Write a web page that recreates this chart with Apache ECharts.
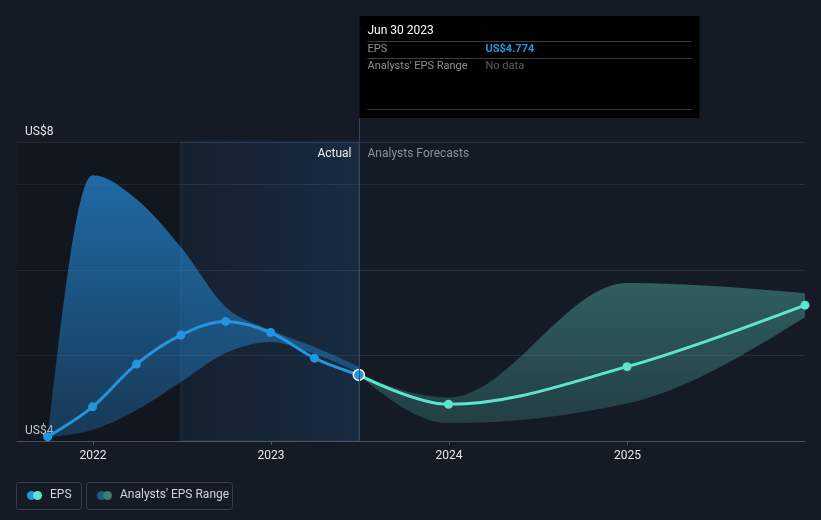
<!DOCTYPE html>
<html><head><meta charset="utf-8">
<script src="https://cdn.jsdelivr.net/npm/echarts@6/dist/echarts.min.js"></script>
<style>html,body{margin:0;padding:0;background:#151b25;}#c{width:821px;height:520px;}</style>
</head><body><div id="c"></div>
<script>
// ---- data ----
const actualDates = ['2021-09-30','2021-12-31','2022-03-31','2022-06-30','2022-09-30','2022-12-31','2023-03-31','2023-06-30'];
const actualEps = [4.05, 4.40, 4.90, 5.24, 5.40, 5.27, 4.97, 4.774];
const actualRangeLow = [4.05, 4.13, 4.36, 4.69, 5.03, 5.16, 5.02, 4.80];
const actualRangeHigh = [4.05, 7.11, 6.83, 6.27, 5.57, 5.30, 5.10, 4.87];
const forecastDates = ['2023-06-30','2023-12-31','2024-12-31','2025-12-31'];
const forecastEps = [4.774, 4.43, 4.87, 5.59];
const forecastLow = [4.774, 4.21, 4.44, 5.45];
const forecastHigh = [4.774, 4.51, 5.85, 5.73];
const yTickLabels = {'7.5': 'US$8', '4': 'US$4'};
const axisStart = '2021-07-29', axisEnd = '2025-12-31';
const actualShadeStart = '2022-06-30', lastActual = '2023-06-30';
const tooltipDate = 'Jun 30 2023', tooltipEps = 'US$4.774';

const FONT = 'Roboto, "Noto Sans", sans-serif';
const BLUE = '#2394df', TEAL = '#5ce5cc';
const DAY = 86400000;
const ts = s => echarts.time.parse(s).getTime();
const pair = (xs, ys) => xs.map((d, i) => [ts(d), ys[i]]);
const triple = (xs, lo, hi) => xs.map((d, i) => [ts(d), lo[i], hi[i]]);

// monotone-x cubic tangents (pixel space)
const sgn = v => v < 0 ? -1 : 1;
function tangents(p) {
  const n = p.length, t = new Array(n).fill(0);
  for (let i = 1; i < n - 1; i++) {
    const h0 = p[i][0] - p[i-1][0], h1 = p[i+1][0] - p[i][0];
    const s0 = (p[i][1] - p[i-1][1]) / h0, s1 = (p[i+1][1] - p[i][1]) / h1;
    const q = (s0 * h1 + s1 * h0) / (h0 + h1);
    t[i] = (sgn(s0) + sgn(s1)) * Math.min(Math.abs(s0), Math.abs(s1), 0.5 * Math.abs(q)) || 0;
  }
  if (n === 2) { t[0] = t[1] = (p[1][1] - p[0][1]) / (p[1][0] - p[0][0]); }
  else {
    t[0] = (3 * (p[1][1] - p[0][1]) / (p[1][0] - p[0][0]) - t[1]) / 2;
    t[n-1] = (3 * (p[n-1][1] - p[n-2][1]) / (p[n-1][0] - p[n-2][0]) - t[n-2]) / 2;
  }
  return t;
}
function bandPath(up, lo) {
  const tu = tangents(up), tl = tangents(lo);
  let d = 'M' + up[0][0] + ',' + up[0][1];
  for (let i = 0; i < up.length - 1; i++) {
    const h = (up[i+1][0] - up[i][0]) / 3;
    d += 'C' + (up[i][0] + h) + ',' + (up[i][1] + h * tu[i]) + ',' + (up[i+1][0] - h) + ',' + (up[i+1][1] - h * tu[i+1]) + ',' + up[i+1][0] + ',' + up[i+1][1];
  }
  const n = lo.length;
  d += 'L' + lo[n-1][0] + ',' + lo[n-1][1];
  for (let i = n - 1; i > 0; i--) {
    const h = (lo[i][0] - lo[i-1][0]) / 3;
    d += 'C' + (lo[i][0] - h) + ',' + (lo[i][1] - h * tl[i]) + ',' + (lo[i-1][0] + h) + ',' + (lo[i-1][1] + h * tl[i-1]) + ',' + lo[i-1][0] + ',' + lo[i-1][1];
  }
  return d + 'Z';
}
function bandSeries(dates, low, high, stops) {
  return {
    type: 'custom', z: 2, silent: true, clip: true,
    encode: {x: 0, y: [1, 2]},
    data: triple(dates, low, high),
    renderItem: (params, api) => {
      if (params.dataIndex !== 0) return null;
      const up = dates.map((d, i) => api.coord([ts(d), high[i]]));
      const lo = dates.map((d, i) => api.coord([ts(d), low[i]]));
      return {type: 'path', shape: {pathData: bandPath(up, lo)},
        style: {fill: {type: 'linear', x: 0, y: 0, x2: 0, y2: 1, colorStops: stops}, stroke: null}};
    }
  };
}

const chart = echarts.init(document.getElementById('c'), null, {renderer: 'canvas'});
const option = {
  backgroundColor: '#151b25',
  animation: false,
  textStyle: {fontFamily: FONT},
  grid: {left: 17, right: 16, top: 142, bottom: 79, containLabel: false, outerBoundsMode: 'none'},
  xAxis: {
    type: 'time', min: ts(axisStart), max: ts(axisEnd),
    minInterval: 365 * DAY, maxInterval: 366 * DAY,
    axisLine: {lineStyle: {color: '#4b515c', width: 1}},
    axisTick: {show: true, length: 4, lineStyle: {color: '#4b515c'}},
    minorTick: {show: false},
    axisLabel: {showMinLabel: false, showMaxLabel: false,
      formatter: v => { const d = new Date(v); return (d.getMonth() === 0 && d.getDate() === 1) ? String(d.getFullYear()) : ''; },
      color: '#e6e6e6', fontSize: 12, margin: 9, fontFamily: FONT},
    splitLine: {show: false}
  },
  yAxis: {
    type: 'value', min: 4, max: 7.5, interval: 1,
    axisLine: {show: false}, axisTick: {show: false},
    splitLine: {lineStyle: {color: '#272e39', width: 1}},
    axisLabel: {inside: true, showMinLabel: true, showMaxLabel: true, margin: 8,
      formatter: v => yTickLabels[String(v)] || '', color: '#e6e6e6', fontSize: 12,
      verticalAlign: 'bottom', padding: [0, 0, 4, 0], fontFamily: FONT}
  },
  series: [
    {type: 'line', data: [], z: 1, silent: true,
      markArea: {silent: true, data: [
        [{xAxis: ts(axisStart), itemStyle: {color: 'rgba(0,0,0,0.14)'}}, {xAxis: ts(actualShadeStart)}],
        [{xAxis: ts(actualShadeStart), itemStyle: {
          color: {type: 'linear', x: 0, y: 0, x2: 1, y2: 0, colorStops: [
            {offset: 0, color: 'rgba(35,120,200,0.06)'}, {offset: 1, color: 'rgba(35,120,200,0.17)'}]},
          borderColor: 'rgba(90,140,190,0.18)', borderWidth: 1}}, {xAxis: ts(lastActual)}]
      ]}},
    bandSeries(actualDates, actualRangeLow, actualRangeHigh,
      [{offset: 0, color: 'rgba(36,135,212,0.74)'}, {offset: 1, color: 'rgba(36,135,212,0.30)'}]),
    bandSeries(forecastDates, forecastLow, forecastHigh,
      [{offset: 0, color: 'rgba(90,205,190,0.38)'}, {offset: 1, color: 'rgba(90,205,190,0.20)'}]),
    {name: 'EPS forecast', type: 'line', z: 3, smooth: 0.35, silent: true,
      lineStyle: {color: TEAL, width: 3}, itemStyle: {color: TEAL},
      symbol: 'circle', symbolSize: 9,
      data: forecastDates.map((d, i) => i === 0 ? {value: [ts(d), forecastEps[i]], symbol: 'none'} : [ts(d), forecastEps[i]])},
    {name: 'EPS', type: 'line', z: 4, smooth: 0.35, silent: true,
      lineStyle: {color: BLUE, width: 3}, itemStyle: {color: BLUE},
      symbol: 'circle', symbolSize: 9,
      data: actualDates.map((d, i) => i === actualDates.length - 1
        ? {value: [ts(d), actualEps[i]], symbolSize: 11, itemStyle: {color: BLUE, borderColor: '#ffffff', borderWidth: 1.5}}
        : [ts(d), actualEps[i]])}
  ]
};
chart.setOption(option);

const lx = Math.round(chart.convertToPixel({xAxisIndex: 0}, ts(lastActual))) + 0.5;
const yBottomPx = chart.convertToPixel({yAxisIndex: 0}, 4);
const tipL = lx, tipT = 16, tipW = 340, tipH = 102;
const g = [
  {type: 'line', silent: true, z: 5, shape: {x1: lx, y1: tipT + tipH, x2: lx, y2: yBottomPx}, style: {stroke: '#2c4862', lineWidth: 1}},
  {type: 'text', z: 6, style: {text: 'Actual', x: lx - 8, y: 154, align: 'right', verticalAlign: 'middle', fill: '#ececec', font: '12px ' + FONT}},
  {type: 'text', z: 6, style: {text: 'Analysts Forecasts', x: lx + 8, y: 154, align: 'left', verticalAlign: 'middle', fill: '#8b9099', font: '12px ' + FONT}},
  {type: 'rect', z: 10, shape: {x: tipL, y: tipT, width: tipW, height: tipH}, style: {fill: '#000000'}},
  {type: 'text', z: 11, style: {text: tooltipDate, x: tipL + 8, y: 31, verticalAlign: 'middle', fill: '#ffffff', font: '12px ' + FONT}},
  {type: 'line', z: 11, shape: {x1: tipL + 8, y1: 41.5, x2: tipL + 332, y2: 41.5}, style: {stroke: '#3a3d42', lineWidth: 1}},
  {type: 'text', z: 11, style: {text: 'EPS', x: tipL + 8, y: 49, verticalAlign: 'middle', fill: '#8e8f92', font: '11px ' + FONT}},
  {type: 'text', z: 11, style: {text: tooltipEps, x: tipL + 126, y: 49, verticalAlign: 'middle', fill: BLUE, font: 'bold 11px ' + FONT}},
  {type: 'line', z: 11, shape: {x1: tipL + 8, y1: 58.5, x2: tipL + 332, y2: 58.5}, style: {stroke: '#3a3d42', lineWidth: 1}},
  {type: 'text', z: 11, style: {text: "Analysts' EPS Range", x: tipL + 8, y: 66, verticalAlign: 'middle', fill: '#8e8f92', font: '11px ' + FONT}},
  {type: 'text', z: 11, style: {text: 'No data', x: tipL + 126, y: 66, verticalAlign: 'middle', fill: '#5d5e61', font: '11px ' + FONT}},
  {type: 'line', z: 11, shape: {x1: tipL + 8, y1: 109.5, x2: tipL + 332, y2: 109.5}, style: {stroke: '#3a3d42', lineWidth: 1}},
  // legend
  {type: 'rect', z: 10, shape: {x: 16.5, y: 482.5, width: 65, height: 27, r: 3}, style: {fill: 'transparent', stroke: '#3a404b', lineWidth: 1}},
  {type: 'circle', z: 11, shape: {cx: 31.5, cy: 495.5, r: 4.5}, style: {fill: BLUE}},
  {type: 'circle', z: 12, shape: {cx: 37.5, cy: 495.5, r: 4.5}, style: {fill: TEAL}},
  {type: 'text', z: 11, style: {text: 'EPS', x: 50, y: 495, verticalAlign: 'middle', fill: '#d2d4d8', font: '12px ' + FONT}},
  {type: 'rect', z: 10, shape: {x: 86.5, y: 482.5, width: 146, height: 27, r: 3}, style: {fill: 'transparent', stroke: '#3a404b', lineWidth: 1}},
  {type: 'circle', z: 11, shape: {cx: 101.5, cy: 495.5, r: 4.5}, style: {fill: '#1e5a87'}},
  {type: 'circle', z: 12, shape: {cx: 107.5, cy: 495.5, r: 4.5}, style: {fill: '#3a7d78'}},
  {type: 'text', z: 11, style: {text: "Analysts' EPS Range", x: 120, y: 495, verticalAlign: 'middle', fill: '#d2d4d8', font: '12px ' + FONT}}
];
chart.setOption({graphic: g});
</script></body></html>
